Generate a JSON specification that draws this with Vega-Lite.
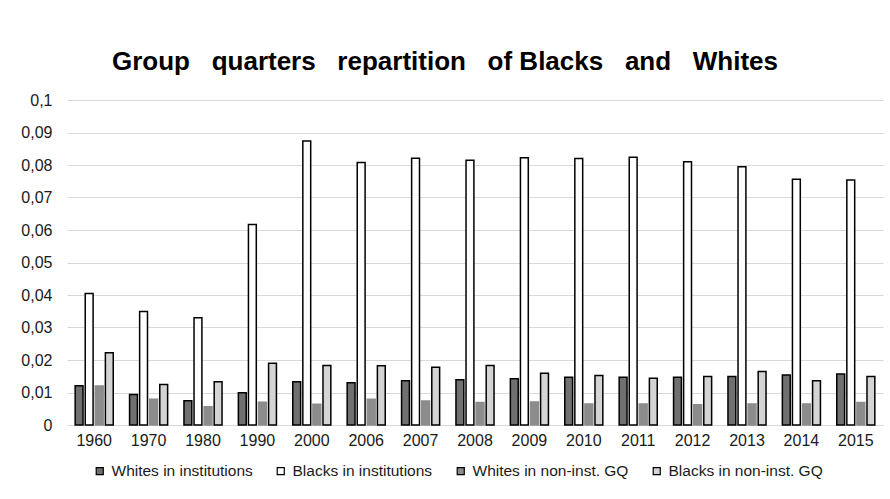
{
  "$schema": "https://vega.github.io/schema/vega-lite/v6.json",
  "width": 816,
  "height": 325,
  "autosize": {"type": "none"},
  "padding": {"left": 67, "top": 100, "right": 7, "bottom": 74},
  "background": "white",
  "title": {
    "text": "Group\u00a0\u00a0 quarters\u00a0\u00a0 repartition\u00a0\u00a0 of Blacks\u00a0\u00a0 and\u00a0\u00a0 Whites",
    "font": "Liberation Sans",
    "fontSize": 26,
    "fontWeight": "bold",
    "color": "#000000",
    "anchor": "middle",
    "dx": -30,
    "offset": 17
  },
  "data": {
    "values": [
      {"year": "1960", "series": "Whites in institutions", "v": 0.0121},
      {"year": "1960", "series": "Blacks in institutions", "v": 0.0405},
      {"year": "1960", "series": "Whites in non-inst. GQ", "v": 0.0120},
      {"year": "1960", "series": "Blacks in non-inst. GQ", "v": 0.0222},
      {"year": "1970", "series": "Whites in institutions", "v": 0.0094},
      {"year": "1970", "series": "Blacks in institutions", "v": 0.0349},
      {"year": "1970", "series": "Whites in non-inst. GQ", "v": 0.0079},
      {"year": "1970", "series": "Blacks in non-inst. GQ", "v": 0.0125},
      {"year": "1980", "series": "Whites in institutions", "v": 0.0075},
      {"year": "1980", "series": "Blacks in institutions", "v": 0.0330},
      {"year": "1980", "series": "Whites in non-inst. GQ", "v": 0.0056},
      {"year": "1980", "series": "Blacks in non-inst. GQ", "v": 0.0133},
      {"year": "1990", "series": "Whites in institutions", "v": 0.0099},
      {"year": "1990", "series": "Blacks in institutions", "v": 0.0617},
      {"year": "1990", "series": "Whites in non-inst. GQ", "v": 0.0070},
      {"year": "1990", "series": "Blacks in non-inst. GQ", "v": 0.0190},
      {"year": "2000", "series": "Whites in institutions", "v": 0.0133},
      {"year": "2000", "series": "Blacks in institutions", "v": 0.0874},
      {"year": "2000", "series": "Whites in non-inst. GQ", "v": 0.0064},
      {"year": "2000", "series": "Blacks in non-inst. GQ", "v": 0.0183},
      {"year": "2006", "series": "Whites in institutions", "v": 0.0130},
      {"year": "2006", "series": "Blacks in institutions", "v": 0.0808},
      {"year": "2006", "series": "Whites in non-inst. GQ", "v": 0.0079},
      {"year": "2006", "series": "Blacks in non-inst. GQ", "v": 0.0182},
      {"year": "2007", "series": "Whites in institutions", "v": 0.0136},
      {"year": "2007", "series": "Blacks in institutions", "v": 0.0821},
      {"year": "2007", "series": "Whites in non-inst. GQ", "v": 0.0074},
      {"year": "2007", "series": "Blacks in non-inst. GQ", "v": 0.0178},
      {"year": "2008", "series": "Whites in institutions", "v": 0.0139},
      {"year": "2008", "series": "Blacks in institutions", "v": 0.0815},
      {"year": "2008", "series": "Whites in non-inst. GQ", "v": 0.0069},
      {"year": "2008", "series": "Blacks in non-inst. GQ", "v": 0.0183},
      {"year": "2009", "series": "Whites in institutions", "v": 0.0142},
      {"year": "2009", "series": "Blacks in institutions", "v": 0.0822},
      {"year": "2009", "series": "Whites in non-inst. GQ", "v": 0.0071},
      {"year": "2009", "series": "Blacks in non-inst. GQ", "v": 0.0159},
      {"year": "2010", "series": "Whites in institutions", "v": 0.0147},
      {"year": "2010", "series": "Blacks in institutions", "v": 0.0820},
      {"year": "2010", "series": "Whites in non-inst. GQ", "v": 0.0065},
      {"year": "2010", "series": "Blacks in non-inst. GQ", "v": 0.0152},
      {"year": "2011", "series": "Whites in institutions", "v": 0.0147},
      {"year": "2011", "series": "Blacks in institutions", "v": 0.0824},
      {"year": "2011", "series": "Whites in non-inst. GQ", "v": 0.0065},
      {"year": "2011", "series": "Blacks in non-inst. GQ", "v": 0.0144},
      {"year": "2012", "series": "Whites in institutions", "v": 0.0147},
      {"year": "2012", "series": "Blacks in institutions", "v": 0.0810},
      {"year": "2012", "series": "Whites in non-inst. GQ", "v": 0.0062},
      {"year": "2012", "series": "Blacks in non-inst. GQ", "v": 0.0149},
      {"year": "2013", "series": "Whites in institutions", "v": 0.0149},
      {"year": "2013", "series": "Blacks in institutions", "v": 0.0795},
      {"year": "2013", "series": "Whites in non-inst. GQ", "v": 0.0065},
      {"year": "2013", "series": "Blacks in non-inst. GQ", "v": 0.0165},
      {"year": "2014", "series": "Whites in institutions", "v": 0.0154},
      {"year": "2014", "series": "Blacks in institutions", "v": 0.0756},
      {"year": "2014", "series": "Whites in non-inst. GQ", "v": 0.0065},
      {"year": "2014", "series": "Blacks in non-inst. GQ", "v": 0.0136},
      {"year": "2015", "series": "Whites in institutions", "v": 0.0157},
      {"year": "2015", "series": "Blacks in institutions", "v": 0.0754},
      {"year": "2015", "series": "Whites in non-inst. GQ", "v": 0.0069},
      {"year": "2015", "series": "Blacks in non-inst. GQ", "v": 0.0149}
    ]
  },
  "mark": {"type": "bar", "strokeWidth": 1.5},
  "encoding": {
    "x": {
      "field": "year",
      "type": "nominal",
      "sort": null,
      "scale": {"paddingInner": 0.3, "paddingOuter": 0.15},
      "axis": {
        "title": null,
        "labelAngle": 0,
        "labelFont": "Liberation Sans",
        "labelFontSize": 16,
        "labelColor": "#1a1a1a",
        "labelPadding": 7,
        "ticks": false,
        "domainColor": "#d9d9d9",
        "domainWidth": 1
      }
    },
    "xOffset": {
      "field": "series",
      "type": "nominal",
      "sort": ["Whites in institutions", "Blacks in institutions", "Whites in non-inst. GQ", "Blacks in non-inst. GQ"],
      "scale": {"paddingInner": 0.22}
    },
    "y": {
      "field": "v",
      "type": "quantitative",
      "scale": {"domain": [0, 0.1], "nice": false},
      "axis": {
        "title": null,
        "values": [0, 0.01, 0.02, 0.03, 0.04, 0.05, 0.06, 0.07, 0.08, 0.09, 0.1],
        "labelOverlap": false,
        "format": ".2~f",
        "labelExpr": "replace(datum.label, '.', ',')",
        "labelFont": "Liberation Sans",
        "labelFontSize": 16,
        "labelColor": "#1a1a1a",
        "labelPadding": 15,
        "ticks": false,
        "domain": false,
        "gridColor": "#d9d9d9",
        "gridWidth": 1
      }
    },
    "fill": {
      "field": "series",
      "type": "nominal",
      "sort": ["Whites in institutions", "Blacks in institutions", "Whites in non-inst. GQ", "Blacks in non-inst. GQ"],
      "scale": {"range": ["#707070", "#ffffff", "#8c8c8c", "#d4d4d4"]},
      "legend": {
        "title": null,
        "orient": "none",
        "legendX": 25,
        "legendY": 363,
        "direction": "horizontal",
        "columns": 4,
        "columnPadding": 20,
        "symbolType": "square",
        "symbolSize": 50,
        "symbolStrokeColor": "#000000",
        "symbolStrokeWidth": 1.2,
        "labelFont": "Liberation Sans",
        "labelFontSize": 15.5,
        "labelColor": "#1a1a1a",
        "labelOffset": 4,
        "labelLimit": 250
      }
    },
    "stroke": {
      "field": "series",
      "type": "nominal",
      "sort": ["Whites in institutions", "Blacks in institutions", "Whites in non-inst. GQ", "Blacks in non-inst. GQ"],
      "scale": {"range": ["#000000", "#000000", "#8c8c8c", "#000000"]},
      "legend": null
    }
  },
  "config": {
    "view": {"stroke": null}
  }
}
